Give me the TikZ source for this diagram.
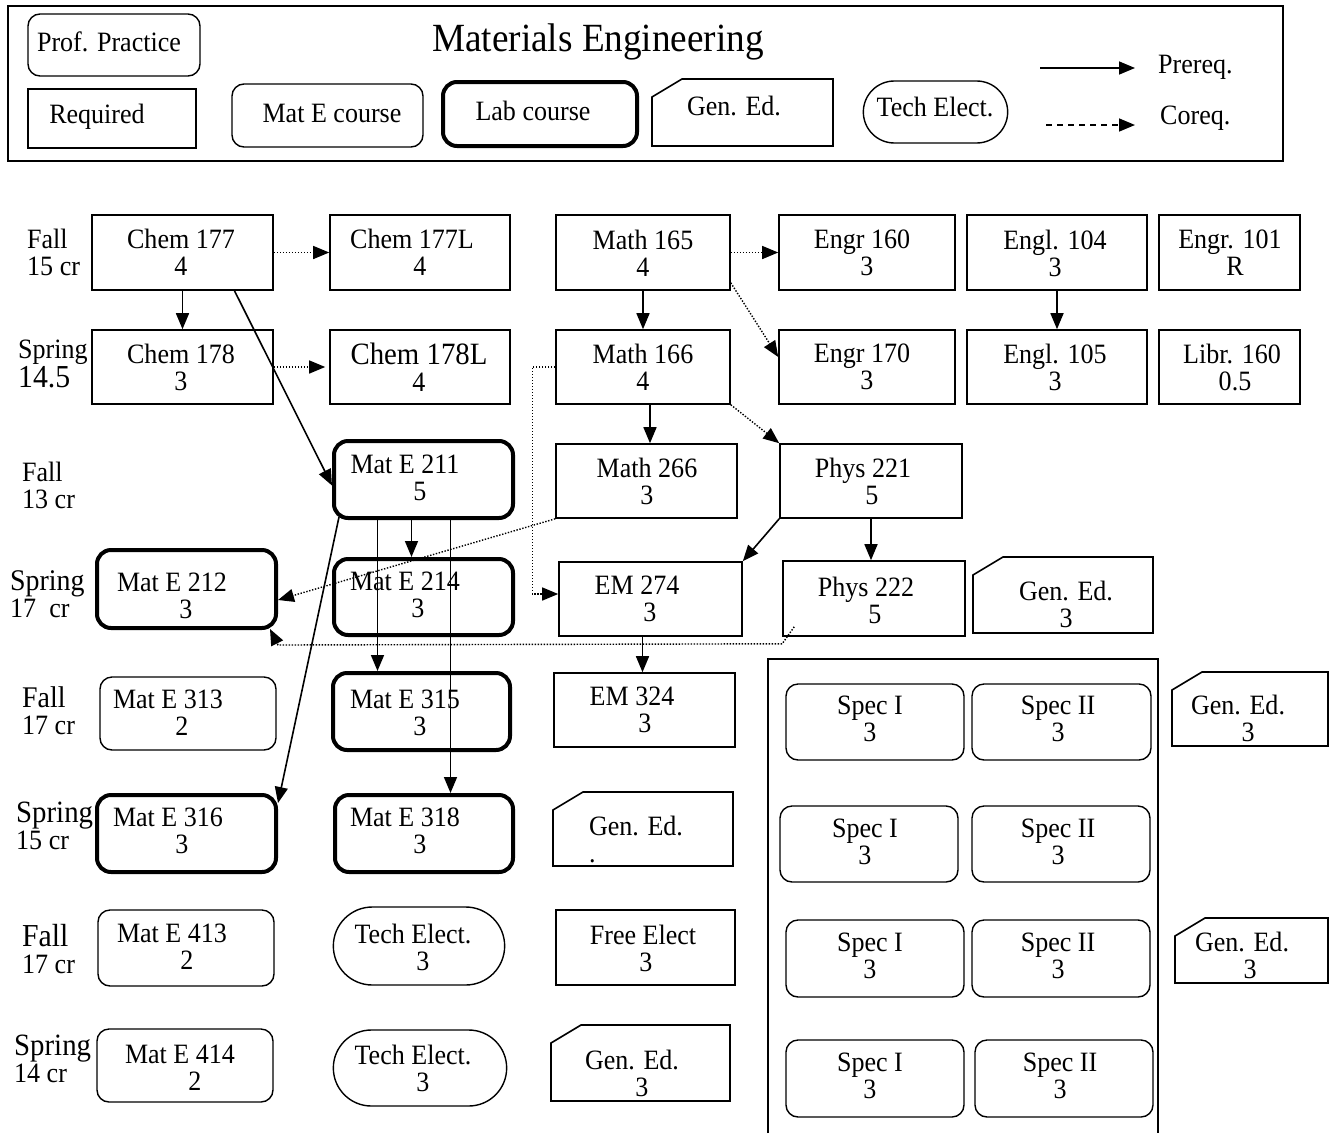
\documentclass[tikz,border=0pt]{standalone}
\usepackage{fontspec}
\setmainfont{Liberation Serif}[FakeStretch=0.93]
\usetikzlibrary{arrows.meta,shapes.misc}
\newcommand\hsh[1]{\hspace*{#1pt}}
\newcommand\crs[9]{%
  \node[#2,minimum width={(#5-#3)*1pt},minimum height={(#6-#4)*1pt}] (#1) at ({(#3+#5)/2},{(#4+#6)/2}) {};
  \node[txt] (#1-t) at (#7,#8) {#9};}
\newcommand\gened[8]{%
  \node[genbox,minimum width={(#4-#2)*1pt},minimum height={(#5-#3)*1pt}] (#1) at ({(#2+#4)/2},{(#3+#5)/2}) {};
  \draw[genline] ([yshift=-18pt]#1.north west) -- ([xshift=30pt]#1.north west) -- (#1.north east) -- (#1.south east) -- (#1.south west) -- cycle;
  \node[txt] (#1-t) at (#6,#7) {#8};}
\tikzset{
 txt/.style={inner sep=0pt, align=center, font=\fontsize{28}{27}\selectfont},
 reqbox/.style={draw, rectangle, line width=1.6pt},
 matebox/.style={draw, rectangle, rounded corners=12pt, line width=1.4pt},
 labbox/.style={draw, rectangle, rounded corners=14pt, line width=4pt},
 techbox/.style={draw, rounded rectangle, line width=1.4pt},
 genbox/.style={rectangle, outer sep=0pt},
 genline/.style={line width=1.6pt, line join=miter},
 prereq/.style={line width=1.6pt, -{Triangle[length=16pt,width=13pt]}},
 coreq/.style={line width=1.4pt, dash pattern=on 1.4pt off 1.6pt, -{Triangle[length=16pt,width=13pt]}},
 legdash/.style={line width=1.6pt, dash pattern=on 6pt off 5pt, -{Triangle[length=16pt,width=13pt]}},
 semlbl/.style={inner sep=0pt, align=left, anchor=west, font=\fontsize{28}{27}\selectfont},
}
\begin{document}
\begin{tikzpicture}[x=1pt,y=-1pt]
\useasboundingbox (0,0) rectangle (1331,1133);
% ---------- legend ----------
\draw[line width=1.6pt] (8,6) rectangle (1283,161);
\node[inner sep=0pt, font=\fontsize{40}{40}\selectfont] (title) at (598,42) {Materials Engineering};
\crs{lprof}{matebox}{28}{14}{200}{76}{109}{42}{Prof. Practice}
\crs{lreq}{reqbox}{28}{89}{196}{148}{97}{117}{Required}
\crs{lmate}{matebox}{232}{84}{423}{147}{332}{113}{Mat E course}
\crs{llab}{labbox}{443}{82}{637}{146}{533}{111}{Lab course}
\gened{lgen}{652}{79}{833}{146}{734}{106}{Gen. Ed.}
\crs{ltech}{techbox}{860}{81}{1011}{143}{935}{107}{Tech Elect.}
\coordinate (pq1) at (1040,68);
\coordinate (pq2) at (1135,68);
\draw[prereq] (pq1) -- (pq2);
\node[semlbl] (pqt) at (1158,67) {Prereq.};
\coordinate (cq1) at (1046,125);
\coordinate (cq2) at (1135,125);
\draw[legdash] (cq1) -- (cq2);
\node[semlbl] (cqt) at (1160,118) {Coreq.};
% ---------- semester labels ----------
\node[semlbl] (sem1) at (27,252) {Fall\\15 cr};
\node[semlbl] (sem2) at (18,364) {Spring\\\fontsize{32}{28}\selectfont 14.5};
\node[semlbl] (sem3) at (22,485) {Fall\\13 cr};
\node[semlbl] (sem4) at (10,594) {\fontsize{30}{27}\selectfont Spring\\17\ \ cr};
\node[semlbl] (sem5) at (22,711) {\fontsize{30}{27}\selectfont Fall\\17 cr};
\node[semlbl] (sem6) at (16,826) {\fontsize{31}{26}\selectfont Spring\\15 cr};
\node[semlbl] (sem7) at (22,949) {\fontsize{32}{28}\selectfont Fall\\17 cr};
\node[semlbl] (sem8) at (14,1059) {\fontsize{31}{27}\selectfont Spring\\14 cr};
% ---------- row 1 ----------
\crs{chem177}{reqbox}{92}{215}{273}{290}{181}{252}{Chem 177\\4}
\crs{chem177l}{reqbox}{330}{215}{510}{290}{412}{252}{Chem 177L\\\hsh{16}4}
\crs{math165}{reqbox}{556}{215}{730}{290}{643}{253}{Math 165\\4}
\crs{engr160}{reqbox}{779}{215}{955}{290}{862}{253}{Engr 160\\\hsh{10}3}
\crs{engl104}{reqbox}{967}{215}{1147}{290}{1055}{253}{Engl. 104\\3}
\crs{engr101}{reqbox}{1159}{215}{1300}{290}{1230}{253}{Engr. 101\\\hsh{10}R}
% ---------- row 2 ----------
\crs{chem178}{reqbox}{92}{330}{273}{404}{181}{367}{Chem 178\\3}
\crs{chem178l}{reqbox}{330}{330}{510}{404}{419}{367}{\fontsize{31}{28}\selectfont Chem 178L\\4}
\crs{math166}{reqbox}{556}{330}{730}{404}{643}{367}{Math 166\\4}
\crs{engr170}{reqbox}{779}{330}{955}{404}{862}{367}{Engr 170\\\hsh{10}3}
\crs{engl105}{reqbox}{967}{330}{1147}{404}{1055}{367}{Engl. 105\\3}
\crs{libr160}{reqbox}{1159}{330}{1300}{404}{1232}{367}{Libr. 160\\\hsh{6}0.5}
% ---------- row 3 ----------
\crs{mate211}{labbox}{334}{441}{513}{518}{405}{478}{Mat E 211\\\hsh{30}5}
\crs{math266}{reqbox}{556}{444}{737}{518}{647}{481}{Math 266\\3}
\crs{phys221}{reqbox}{780}{444}{962}{518}{863}{481}{Phys 221\\\hsh{18}5}
% ---------- row 4 ----------
\crs{mate212}{labbox}{97}{550}{276}{628}{172}{596}{Mat E 212\\\hsh{28}3}
\crs{mate214}{labbox}{334}{559}{513}{635}{405}{595}{Mat E 214\\\hsh{26}3}
\crs{em274}{reqbox}{559}{562}{742}{636}{637}{599}{EM 274\\\hsh{26}3}
\crs{phys222}{reqbox}{783}{561}{965}{636}{866}{600}{Phys 222\\\hsh{18}5}
\gened{gen1}{973}{557}{1153}{633}{1066}{604}{Gen. Ed.\\3}
% ---------- row 5 ----------
\crs{mate313}{matebox}{100}{677}{276}{750}{168}{713}{Mat E 313\\\hsh{28}2}
\crs{mate315}{labbox}{333}{673}{510}{750}{405}{713}{Mat E 315\\\hsh{30}3}
\crs{em324}{reqbox}{554}{673}{735}{747}{632}{710}{EM 324\\\hsh{26}3}
\draw[line width=1.6pt] (768,1133) -- (768,659) -- (1158,659) -- (1158,1133);
\crs{spec1a}{matebox}{786}{684}{964}{760}{870}{719}{Spec I\\3}
\crs{spec2a}{matebox}{972}{684}{1151}{760}{1058}{719}{Spec II\\3}
\gened{gen2}{1172}{672}{1328}{746}{1238}{718}{Gen. Ed.\\\hsh{20}3}
% ---------- row 6 ----------
\crs{mate316}{labbox}{97}{795}{276}{872}{168}{831}{Mat E 316\\\hsh{28}3}
\crs{mate318}{labbox}{335}{795}{513}{872}{405}{831}{Mat E 318\\\hsh{30}3}
\node[genbox,minimum width=180pt,minimum height=74pt] (gen3) at (643,829) {};
\draw[genline] ([yshift=-18pt]gen3.north west) -- ([xshift=30pt]gen3.north west) -- (gen3.north east) -- (gen3.south east) -- (gen3.south west) -- cycle;
\node[txt, align=left] (gen3-t) at (636,839) {Gen. Ed.\\.};
\crs{spec1b}{matebox}{780}{806}{958}{882}{865}{842}{Spec I\\3}
\crs{spec2b}{matebox}{972}{806}{1150}{882}{1058}{842}{Spec II\\3}
% ---------- row 7 ----------
\crs{mate413}{matebox}{98}{910}{274}{986}{172}{947}{Mat E 413\\\hsh{30}2}
\crs{tech1}{techbox}{330}{907}{508}{985}{413}{947}{Tech Elect.\\\hsh{20}3}
\crs{freeel}{reqbox}{556}{910}{735}{985}{643}{948}{Free Elect\\\hsh{6}3}
\crs{spec1c}{matebox}{786}{920}{964}{997}{870}{956}{Spec I\\3}
\crs{spec2c}{matebox}{972}{920}{1150}{997}{1058}{956}{Spec II\\3}
\gened{gen4}{1175}{918}{1328}{983}{1242}{955}{Gen. Ed.\\\hsh{16}3}
% ---------- row 8 ----------
\crs{mate414}{matebox}{97}{1029}{273}{1102}{180}{1068}{Mat E 414\\\hsh{30}2}
\crs{tech2}{techbox}{330}{1030}{510}{1106}{413}{1068}{Tech Elect.\\\hsh{20}3}
\gened{gen5}{551}{1025}{730}{1101}{632}{1073}{Gen. Ed.\\\hsh{20}3}
\crs{spec1d}{matebox}{786}{1040}{964}{1117}{870}{1076}{Spec I\\3}
\crs{spec2d}{matebox}{975}{1040}{1153}{1117}{1060}{1076}{Spec II\\3}
% ---------- connectors ----------
\draw[prereq] (chem177.south) -- (chem178.north);
\draw[coreq] (chem177.east) -- (chem177l.west);
\draw[coreq] (chem178.east) -- ([xshift=-4pt]chem178l.west);
\draw[prereq] ([xshift=52pt]chem177.south) -- ([yshift=-6pt]mate211.west);
\draw[prereq] (math165.south) -- (math166.north);
\draw[coreq] (math165.east) -- (engr160.west);
\draw[coreq] ([yshift=8pt]math165.south east) -- ([yshift=10pt]engr170.west);
\draw[prereq] (engl104.south) -- (engl105.north);
\draw[prereq] ([xshift=7pt]math166.south) -- ([xshift=7pt]math166.south |- math266.north);
\draw[coreq] (math166.south east) -- (phys221.north west);
\draw[coreq] (math166.west) -- ++(-23,0) |- ([yshift=5pt]em274.west);
\draw[coreq] (math266.south west) -- ([yshift=-11pt]mate212.east);
\draw[prereq] (phys221.south west) -- (em274.north east);
\draw[prereq] (phys221.south) -- (phys221.south |- phys222.north);
\draw[coreq] ([shift={(12pt,10pt)}]phys222.south west) -- ([yshift=-7pt]phys222.south west) -- ([yshift=-15pt]mate212.south east) -- ([shift={(-8pt,1pt)}]mate212.south east);
\draw[prereq] ([xshift=-8pt]em274.south) -- ([xshift=-8pt]em274.south |- em324.north);
\draw[prereq] ([xshift=-12pt]mate211.south) -- ([xshift=-12pt]mate211.south |- mate214.north);
\draw[prereq] ([xshift=-46pt]mate211.south) -- ([xshift=-46pt]mate211.south |- mate315.north);
\draw[prereq] ([xshift=27pt]mate211.south) -- ([xshift=27pt]mate211.south |- mate318.north);
\draw[prereq] ([shift={(7pt,3pt)}]mate211.south west) -- ([yshift=-10pt]mate316.north east);
\end{tikzpicture}
\end{document}
